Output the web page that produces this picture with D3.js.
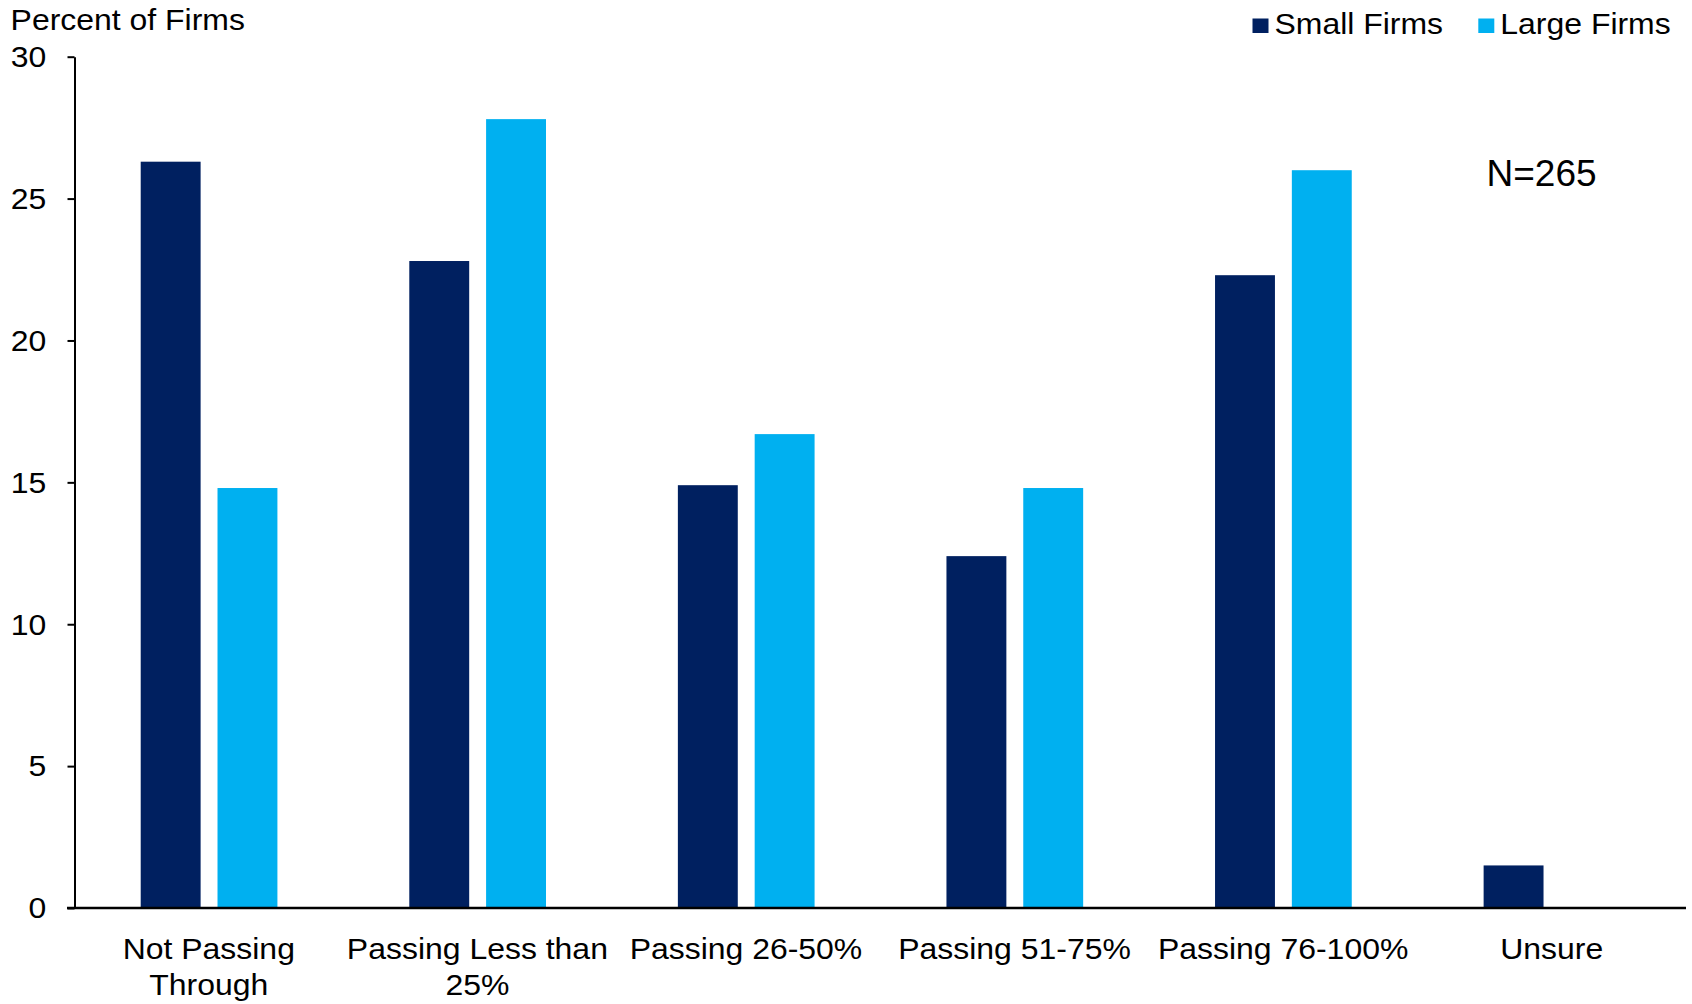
<!DOCTYPE html>
<html>
<head>
<meta charset="utf-8">
<script src="https://cdn.jsdelivr.net/npm/d3@7"></script>
<style>
  html, body { margin: 0; padding: 0; background: #fff; }
  svg { display: block; }
  text { font-family: "Liberation Sans", Arial, sans-serif; fill: #000; }
</style>
</head>
<body>
<svg id="chart" width="1692" height="1004"></svg>
<script>
// Share of firms by how much of their cost increase they pass through
const categories = [
  ["Not Passing", "Through"],
  ["Passing Less than", "25%"],
  ["Passing 26-50%"],
  ["Passing 51-75%"],
  ["Passing 76-100%"],
  ["Unsure"]
];
const seriesNames = ["Small Firms", "Large Firms"];
const smallFirms = [26.3, 22.8, 14.9, 12.4, 22.3, 1.5];
const largeFirms = [14.8, 27.8, 16.7, 14.8, 26.0, 0];
const yTicks = [0, 5, 10, 15, 20, 25, 30];
const colors = ["#002060", "#00B0F0"];

const W = 1692, H = 1004;
const margin = { left: 74.5, right: 6, top: 56.7, bottom: 96 };
const plotBottom = H - margin.bottom;   // y of the zero line
const plotRight = W - margin.right;
const FONT = 30, SX = 1.065;            // label size and horizontal stretch

const svg = d3.select("#chart");

const keys = categories.map(c => c.join(" "));
const x0 = d3.scaleBand().domain(keys).range([margin.left, plotRight]).padding(0);
const bw = x0.bandwidth();
const x1 = d3.scaleBand().domain(seriesNames)
  .range([bw * 0.2465, bw * 0.7555]).paddingInner(0.22);
const y = d3.scaleLinear().domain([0, 30]).range([plotBottom, margin.top]);

const rows = keys.map((k, i) => ({ key: k, values: [smallFirms[i], largeFirms[i]] }));

// bars
const g = svg.append("g");
g.selectAll("g.grp").data(rows).join("g")
  .attr("class", "grp")
  .attr("transform", d => `translate(${x0(d.key)},0)`)
  .selectAll("rect")
  .data(d => d.values.map((v, j) => ({ name: seriesNames[j], v, j })))
  .join("rect")
  .attr("x", d => x1(d.name))
  .attr("width", x1.bandwidth())
  .attr("y", d => y(d.v))
  .attr("height", d => plotBottom - y(d.v))
  .attr("fill", d => colors[d.j]);

// y axis
const yAxis = svg.append("g")
  .attr("transform", `translate(${margin.left},0)`)
  .call(d3.axisLeft(y).tickValues(yTicks).tickSize(7).tickSizeOuter(0));
yAxis.select(".domain").attr("stroke", "#000").attr("stroke-width", 2);
yAxis.selectAll(".tick line").attr("stroke", "#000").attr("stroke-width", 2);
yAxis.selectAll(".tick text")
  .attr("x", null).attr("dy", null)
  .attr("transform", `translate(-28.2,9.8) scale(${SX},1)`)
  .attr("text-anchor", "end")
  .style("font-size", FONT + "px")
  .style("font-family", "'Liberation Sans', Arial, sans-serif")
  .attr("fill", "#000");
yAxis.attr("font-size", null).attr("font-family", null);

// x axis line
svg.append("line")
  .attr("x1", margin.left - 7.5).attr("x2", plotRight)
  .attr("y1", plotBottom).attr("y2", plotBottom)
  .attr("stroke", "#000").attr("stroke-width", 2.5);

// category labels
const lab = svg.append("g").selectAll("text").data(categories).join("text")
  .attr("transform", (d, i) => `translate(${x0(keys[i]) + bw / 2},958.5) scale(${SX},1)`)
  .attr("text-anchor", "middle")
  .style("font-size", FONT + "px");
lab.selectAll("tspan").data(d => d).join("tspan")
  .attr("x", 0)
  .attr("dy", (d, i) => i === 0 ? 0 : 36.5)
  .text(d => d);

// y axis title
svg.append("text")
  .attr("transform", `translate(10.6,30.3) scale(${SX},1)`)
  .style("font-size", FONT + "px")
  .text("Percent of Firms");

// legend
const legendX = [1252.5, 1478.3];
const leg = svg.append("g").selectAll("g").data(seriesNames).join("g")
  .attr("transform", (d, i) => `translate(${legendX[i]},0)`);
leg.append("rect")
  .attr("x", 0).attr("y", 18.5).attr("width", 16).attr("height", 14.5)
  .attr("fill", (d, i) => colors[i]);
leg.append("text")
  .attr("transform", `translate(22,33.8) scale(${SX},1)`)
  .style("font-size", FONT + "px")
  .text(d => d);

// sample size note
svg.append("text")
  .attr("x", 1486.5).attr("y", 186)
  .style("font-size", "37px")
  .text("N=265");
</script>
</body>
</html>
